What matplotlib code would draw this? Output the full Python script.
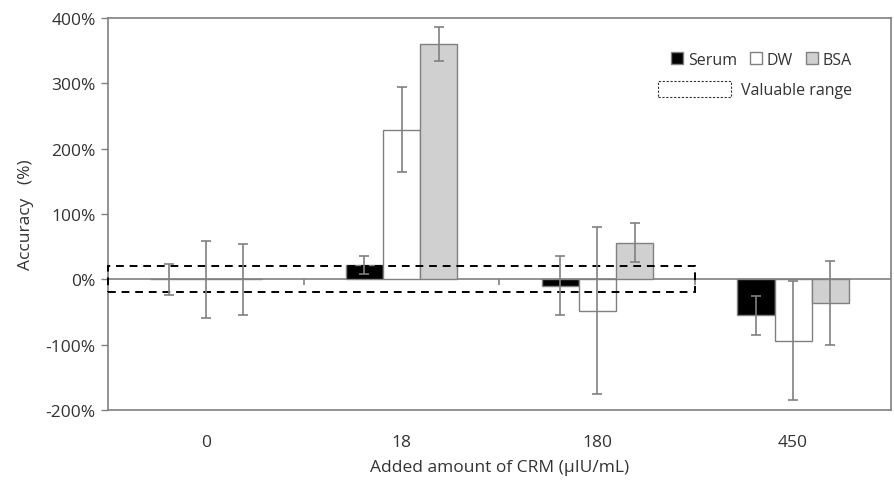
#!/usr/bin/env python3
import numpy as np
import matplotlib
matplotlib.use("Agg")
import matplotlib.pyplot as plt
from matplotlib.patches import Patch, Rectangle
from matplotlib.ticker import FuncFormatter

plt.rcParams["font.family"] = ["Open Sans", "DejaVu Sans"]

categories = ["0", "18", "180", "450"]
series = ["Serum", "DW", "BSA"]
serum = [0, 22, -10, -55]
serum_err = [24, 14, 45, 30]
dw = [0, 229, -48, -94]
dw_err = [59, 65, 128, 91]
bsa = [0, 360, 56, -36]
bsa_err = [54, 26, 30, 64]
valuable_low, valuable_high = -20, 20

GREY = "#808080"
TEXT = "#333333"
fills = ["black", "white", "#d0d0d0"]

fig = plt.figure(figsize=(8.95, 4.81), dpi=100)
ax = fig.add_axes([0.1207, 0.1455, 0.8748, 0.815])

x = np.arange(len(categories))
width = 0.19
values = [serum, dw, bsa]
errors = [serum_err, dw_err, bsa_err]
for i, (vals, errs, fc) in enumerate(zip(values, errors, fills)):
    ax.bar(x + (i - 1) * width, vals, width, color=fc, edgecolor=GREY,
           linewidth=1.0, zorder=2)
    ax.errorbar(x + (i - 1) * width, vals, yerr=errs, fmt="none",
                ecolor=GREY, elinewidth=1.2, capsize=3.5, capthick=1.2, zorder=4)

ax.set_xlim(-0.5, len(categories) - 0.5)
ax.set_ylim(-200, 400)
ax.set_yticks(np.arange(-200, 401, 100))
ax.yaxis.set_major_formatter(FuncFormatter(lambda v, p: f"{v:.0f}%"))
ax.set_xticks(x)
ax.set_xticklabels(categories)
ax.tick_params(axis="x", length=0, pad=17, labelsize=12.5, labelcolor=TEXT)
ax.tick_params(axis="y", length=5, width=1, color=GREY, labelsize=12.5,
               labelcolor=TEXT, pad=4)
for s in ax.spines.values():
    s.set_color(GREY)
    s.set_linewidth(1.2)

# zero axis line with category boundary ticks
ax.axhline(0, color=GREY, linewidth=1.2, zorder=1)
frac0 = (0 - ax.get_ylim()[0]) / (ax.get_ylim()[1] - ax.get_ylim()[0])
sec = ax.secondary_xaxis(frac0)
sec.set_xticks(x[:-1] + 0.5)
sec.set_xticklabels([])
sec.tick_params(length=4, width=1.2, color=GREY)
sec.spines["bottom"].set_visible(False)

# valuable range box
ax.add_patch(Rectangle((-0.5, valuable_low), 3.0, valuable_high - valuable_low,
                       fill=False, edgecolor="black", linestyle=(0, (4, 3)),
                       linewidth=1.4, zorder=3, clip_on=False))

ax.set_ylabel("Accuracy   (%)", fontsize=12.5, color=TEXT, labelpad=8)
ax.set_xlabel("Added amount of CRM (\u03bcIU/mL)", fontsize=12.5,
              color=TEXT, labelpad=7)

handles = [Patch(facecolor=fc, edgecolor=GREY, linewidth=1) for fc in fills]
leg1 = ax.legend(handles, series, ncol=3, loc="upper right",
                 bbox_to_anchor=(0.958, 0.93), frameon=False, fontsize=11.5,
                 handlelength=0.75, handleheight=0.75, handletextpad=0.3,
                 columnspacing=0.8, borderaxespad=0)
for t in leg1.get_texts():
    t.set_color(TEXT)
ax.add_artist(leg1)
vr = Patch(facecolor="white", edgecolor="#333333", linestyle=(0, (2, 1.5)), linewidth=0.8)
leg2 = ax.legend([vr], ["Valuable range"], loc="upper right",
                 bbox_to_anchor=(0.958, 0.855), frameon=False, fontsize=11.5,
                 handlelength=4.6, handleheight=1.1, handletextpad=0.6,
                 borderaxespad=0)
for t in leg2.get_texts():
    t.set_color(TEXT)

fig.savefig("out.png", dpi=100)
